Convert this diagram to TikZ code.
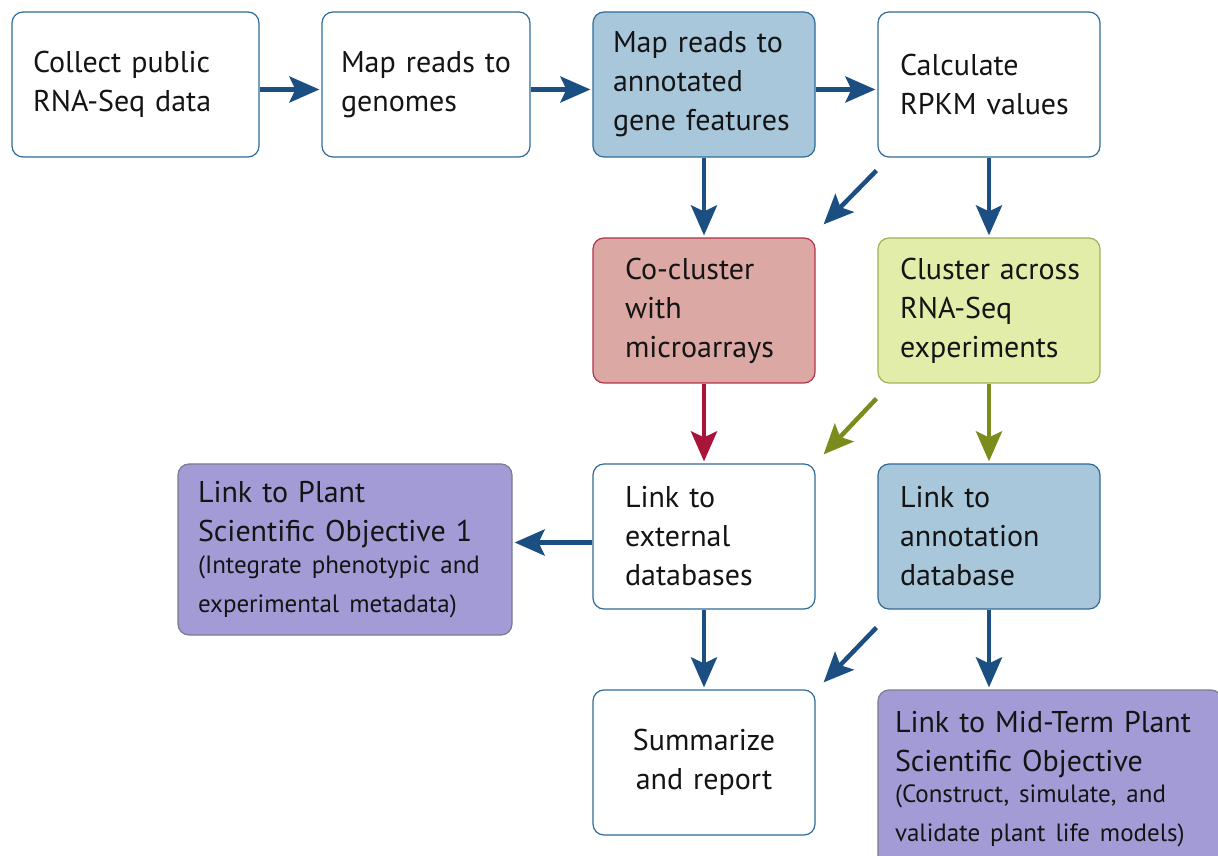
\documentclass[tikz,border=0pt]{standalone}
\usepackage{fontspec}
\setmainfont{PT Sans}
\usetikzlibrary{arrows.meta,positioning}

\definecolor{arrowblue}{HTML}{1B4F82}
\definecolor{edgeblue}{HTML}{2F6A98}
\definecolor{fillblue}{HTML}{A8C7DB}
\definecolor{fillred}{HTML}{DBA8A4}
\definecolor{edgered}{HTML}{B3324C}
\definecolor{arrowred}{HTML}{A8143A}
\definecolor{fillgreen}{HTML}{E3EDAA}
\definecolor{edgegreen}{HTML}{A3B05A}
\definecolor{arrowgreen}{HTML}{7B8B1C}
\definecolor{fillpurple}{HTML}{A39BD6}
\definecolor{edgepurple}{HTML}{7A7A8E}

\newcommand\smalltext{\par\vspace{2pt}\fontsize{25}{29.5}\selectfont}

\tikzset{
  box/.style={draw=edgeblue, line width=1.2pt, rounded corners=11pt, fill=white,
    minimum height=145pt, inner ysep=0pt, inner xsep=20pt, align=left,
    text=black!92, font=\fontsize{30}{39}\selectfont},
  flow/.style={line width=4.5pt, draw=arrowblue,
    -{Stealth[length=30pt,width=26pt,inset=6pt]}},
  gap/.style={shorten >=2pt}
}

\begin{document}
\begin{tikzpicture}[x=1pt,y=1pt]
\useasboundingbox (0,0) rectangle (1218,855);
% first row
\node[box, text width=205pt, inner xsep=21pt] (collect) at (135.5,770.5) {Collect public\\RNA-Seq~data};
\node[box, text width=170pt, inner xsep=19pt] (maprd) at (426,770.5) {Map reads~to\\genomes};
\node[box, fill=fillblue, text width=182pt] (annot) at (704,770.5) {Map reads to\\annotated\\gene~features};
\node[box, text width=178pt, inner xsep=22pt] (rpkm) at (989,770.5) {Calculate\\RPKM values};
% second row
\node[box, fill=fillred, draw=edgered, text width=158pt, inner xsep=32pt] (cocl) at (704,544.5) {Co-cluster\\with\\microarrays};
\node[box, fill=fillgreen, draw=edgegreen, text width=178pt, inner xsep=22pt] (clus) at (989,544.5) {Cluster~across\\RNA-Seq\\experiments};
% third row
\node[box, fill=fillpurple, draw=edgepurple, minimum height=171pt, text width=294pt] (plant) at (345,305.5)
  {Link to Plant\\Scientific~Objective~1\smalltext (Integrate~phenotypic~and\\ experimental~metadata)};
\node[box, text width=158pt, inner xsep=32pt] (ext) at (704,318.5) {Link to\\external\\databases};
\node[box, fill=fillblue, text width=178pt, inner xsep=22pt] (anndb) at (989,318.5) {Link to\\annotation\\database};
% fourth row
\node[box, align=center, text width=182pt] (summ) at (704,92.5) {Summarize\\and report};
\node[box, fill=fillpurple, draw=edgepurple, minimum height=178pt, text width=310pt, inner xsep=17pt] (mid) at (1050,76)
  {Link~to~Mid-Term~Plant\\Scientific Objective\smalltext (Construct, simulate, and\\validate~plant~life~models)};

% free ends of the slanted arrows
\coordinate (s1) at ([shift={(-1pt,-13pt)}]rpkm.south west);
\coordinate (e1) at ([shift={(8pt,13pt)}]cocl.north east);
\coordinate (s2) at ([shift={(-1pt,-15pt)}]clus.south west);
\coordinate (e2) at ([shift={(8pt,9pt)}]ext.north east);
\coordinate (s3) at ([shift={(-1pt,-18pt)}]anndb.south west);
\coordinate (e3) at ([shift={(8pt,7pt)}]summ.north east);

\draw[flow, gap] ([yshift=-5pt]collect.east) -- ([yshift=-5pt]maprd.west);
\draw[flow, gap] ([yshift=-5pt]maprd.east) -- ([yshift=-5pt]annot.west);
\draw[flow, gap] ([yshift=-5pt]annot.east) -- ([yshift=-5pt]rpkm.west);
\draw[flow, gap] (annot) -- (cocl);
\draw[flow, gap] (rpkm) -- (clus);
\draw[flow] (s1) -- (e1);
\draw[flow, gap, draw=arrowred] (cocl) -- (ext);
\draw[flow, gap, draw=arrowgreen] (clus) -- (anndb);
\draw[flow, draw=arrowgreen] (s2) -- (e2);
\draw[flow, gap] ([yshift=-6pt]ext.west) -- ([yshift=-6pt]ext.west -| plant.east);
\draw[flow, gap] (ext) -- (summ);
\draw[flow] (s3) -- (e3);
\draw[flow, gap] (anndb.south) -- (anndb.south |- mid.north);
\end{tikzpicture}
\end{document}
